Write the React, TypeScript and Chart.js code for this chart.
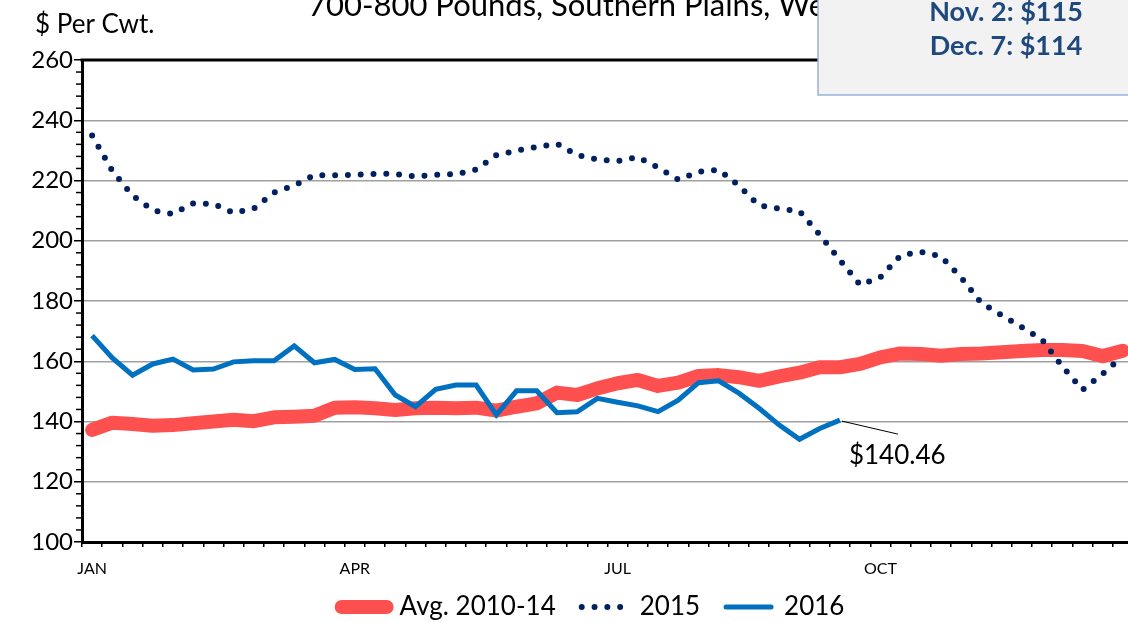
import React, { useEffect, useRef } from "react";
import { Chart, registerables } from "chart.js";

Chart.register(...registerables);

const weekLabels = [
  "Wk 1", "Wk 2", "Wk 3", "Wk 4", "Wk 5", "Wk 6", "Wk 7", "Wk 8", "Wk 9", "Wk 10",
  "Wk 11", "Wk 12", "Wk 13", "Wk 14", "Wk 15", "Wk 16", "Wk 17", "Wk 18", "Wk 19", "Wk 20",
  "Wk 21", "Wk 22", "Wk 23", "Wk 24", "Wk 25", "Wk 26", "Wk 27", "Wk 28", "Wk 29", "Wk 30",
  "Wk 31", "Wk 32", "Wk 33", "Wk 34", "Wk 35", "Wk 36", "Wk 37", "Wk 38", "Wk 39", "Wk 40",
  "Wk 41", "Wk 42", "Wk 43", "Wk 44", "Wk 45", "Wk 46", "Wk 47", "Wk 48", "Wk 49", "Wk 50",
  "Wk 51", "Wk 52",
];

const monthTickIndex = [0, 13, 26, 39];
const monthTickLabels = ["JAN", "APR", "JUL", "OCT"];

const avg2010_14 = [
  137.2, 139.6, 139.2, 138.6, 138.8, 139.4, 140.0, 140.6, 140.1, 141.4,
  141.6, 141.9, 144.6, 144.7, 144.4, 143.8, 144.4, 144.6, 144.4, 144.6,
  143.6, 144.9, 146.0, 149.6, 148.8, 151.0, 152.7, 153.8, 151.8, 152.9,
  155.1, 155.4, 154.7, 153.5, 155.0, 156.2, 158.0, 158.0, 159.1, 161.3,
  162.6, 162.4, 161.8, 162.4, 162.6, 163.0, 163.4, 163.7, 163.7, 163.4,
  161.7, 163.5,
];

const y2015 = [
  234.9, 223.2, 215.0, 210.1, 208.9, 212.4, 212.2, 209.3, 210.7, 216.0,
  218.3, 221.8, 221.7, 221.9, 222.2, 222.2, 221.3, 221.9, 222.1, 223.6,
  228.4, 229.9, 231.1, 232.2, 228.4, 227.0, 226.4, 227.8, 224.3, 220.3,
  222.9, 223.6, 218.3, 211.7, 210.7, 209.8, 202.0, 193.6, 185.3, 187.9,
  195.1, 196.3, 194.8, 187.8, 179.3, 175.3, 171.3, 167.2, 158.3, 150.5,
  155.8, 161.7,
];

const y2016 = [
  168.5, 161.1, 155.4, 159.1, 160.7, 157.1, 157.4, 159.8, 160.2, 160.2,
  165.1, 159.5, 160.6, 157.3, 157.5, 148.8, 144.9, 150.7, 152.1, 152.1,
  142.2, 150.2, 150.2, 142.9, 143.2, 147.7, 146.4, 145.2, 143.3, 147.1,
  152.9, 153.5, 149.4, 144.4, 138.8, 134.1, 137.7, 140.46,
];

const chartTitle = "700-800 Pounds, Southern Plains, Weekly";
const yAxisTitle = "$ Per Cwt.";
const noteLines = ["Nov. 2: $115", "Dec. 7: $114"];

const FONT = "Lato, 'DejaVu Sans', sans-serif";

const decorPlugin = {
  id: "decor",
  afterLayout(chart: any) {
    const lg = chart.legend;
    if (lg) {
      lg.left += 26.5;
      lg.right += 26.5;
      lg.top -= 24;
      lg.bottom -= 24;
    }
  },
  afterDatasetsDraw(chart: any) {
    const { ctx, chartArea: a, scales } = chart;
    const ys = scales.y;
    ctx.save();
    // minor y ticks
    ctx.strokeStyle = "#000";
    ctx.lineWidth = 1.5;
    for (let v = ys.min + 4; v < ys.max; v += 4) {
      if (v % 20 === 0) continue;
      const py = ys.getPixelForValue(v);
      ctx.beginPath();
      ctx.moveTo(a.left - 6, py);
      ctx.lineTo(a.left, py);
      ctx.stroke();
    }
    // top & right border of plot area
    ctx.lineWidth = 3;
    ctx.beginPath();
    ctx.moveTo(a.left - 1.5, a.top);
    ctx.lineTo(a.right, a.top);
    ctx.lineTo(a.right, a.bottom);
    ctx.stroke();

    // last-value annotation for 2016
    const meta = chart.getDatasetMeta(2);
    const last = y2016.length - 1;
    const pt = meta.data[last];
    if (pt) {
      ctx.lineWidth = 1;
      ctx.beginPath();
      ctx.moveTo(pt.x + 2, pt.y + 1);
      ctx.lineTo(pt.x + 58, pt.y + 14);
      ctx.stroke();
      ctx.font = `26px ${FONT}`;
      ctx.fillStyle = "#000";
      ctx.textAlign = "left";
      ctx.textBaseline = "alphabetic";
      ctx.fillText(`$${y2016[last].toFixed(2)}`, pt.x + 9, pt.y + 44);
    }
    ctx.restore();
  },
  afterDraw(chart: any) {
    const { ctx } = chart;
    ctx.save();
    ctx.fillStyle = "#000";
    ctx.textAlign = "left";
    ctx.textBaseline = "alphabetic";
    ctx.font = `31px ${FONT}`;
    ctx.fillText(chartTitle, 308, 16);
    ctx.font = `26px ${FONT}`;
    ctx.fillText(yAxisTitle, 35, 33);

    // note box
    ctx.fillStyle = "#F2F2F2";
    ctx.fillRect(818, -10, 400, 105);
    ctx.strokeStyle = "#95B3D7";
    ctx.lineWidth = 1.5;
    ctx.strokeRect(818, -10, 400, 105);
    ctx.fillStyle = "#1F497D";
    ctx.textAlign = "center";
    ctx.font = `bold 27px ${FONT}`;
    ctx.fillText(noteLines[0], 1006, 21);
    ctx.fillText(noteLines[1], 1006, 55);
    ctx.restore();
  },
};

export default function App() {
  const ref = useRef<HTMLCanvasElement>(null);

  useEffect(() => {
    const canvas = ref.current;
    if (!canvas) return;
    const chart = new Chart(canvas, {
      type: "line",
      data: {
        labels: weekLabels,
        datasets: [
          {
            label: "Avg. 2010-14",
            data: avg2010_14,
            borderColor: "#FF5050",
            backgroundColor: "#FF5050",
            borderWidth: 14,
            borderCapStyle: "round",
            borderJoinStyle: "round",
            pointRadius: 0,
            order: 3,
          },
          {
            label: "2015",
            data: y2015,
            borderColor: "#002060",
            backgroundColor: "#002060",
            borderWidth: 6,
            borderDash: [0, 12.8],
            borderCapStyle: "round",
            borderJoinStyle: "round",
            pointRadius: 0,
            order: 2,
          },
          {
            label: "2016",
            data: y2016,
            borderColor: "#0070C0",
            backgroundColor: "#0070C0",
            borderWidth: 5,
            borderCapStyle: "butt",
            borderJoinStyle: "miter",
            pointRadius: 0,
            order: 1,
          },
        ],
      } as any,
      plugins: [decorPlugin],
      options: {
        responsive: false,
        animation: false,
        devicePixelRatio: 1,
        layout: { padding: { top: 60, right: 7, left: 0, bottom: 0 } },
        plugins: {
          tooltip: { enabled: false },
          title: { display: false },
          legend: {
            position: "bottom",
            labels: {
              usePointStyle: true,
              pointStyleWidth: 45,
              padding: 26,
              color: "#000",
              font: { family: FONT, size: 26 },
              sort: (a: any, b: any) => a.datasetIndex - b.datasetIndex,
              generateLabels: (ch: any) =>
                ch.data.datasets.map((ds: any, i: number) => ({
                  text: ds.label,
                  fillStyle: ds.borderColor,
                  strokeStyle: ds.borderColor,
                  lineWidth: ds.borderWidth,
                  lineCap: ds.label === "2016" ? "round" : ds.borderCapStyle,
                  lineJoin: "round",
                  lineDash: ds.borderDash || [],
                  lineDashOffset: 0,
                  pointStyle: "line",
                  hidden: false,
                  fontColor: "#000",
                  datasetIndex: i,
                })),
            },
          },
        },
        scales: {
          x: {
            type: "category",
            offset: true,
            afterFit: (s: any) => {
              s.height = 50;
            },
            border: { display: true, color: "#000", width: 3 },
            grid: {
              display: true,
              offset: true,
              drawOnChartArea: false,
              drawTicks: true,
              tickLength: 5,
              color: "#000",
              tickColor: "#000",
              lineWidth: 1.5,
            },
            ticks: {
              autoSkip: false,
              maxRotation: 0,
              padding: 12,
              color: "#000",
              font: { family: FONT, size: 16 },
              callback: (_v: any, i: number) => {
                const k = monthTickIndex.indexOf(i);
                return k >= 0 ? monthTickLabels[k] : "";
              },
            },
          },
          y: {
            min: 100,
            max: 260,
            afterFit: (s: any) => {
              s.width = 82;
            },
            border: { display: true, color: "#000", width: 3 },
            grid: {
              drawTicks: true,
              tickLength: 8,
              tickColor: "#000",
              lineWidth: 1.5,
              color: (c: any) =>
                c.tick && (c.tick.value === 100 || c.tick.value === 260)
                  ? "rgba(0,0,0,0)"
                  : "#A0A0A0",
            },
            ticks: {
              stepSize: 20,
              padding: 1,
              color: "#000",
              font: { family: FONT, size: 24 },
            },
          },
        },
      } as any,
    });
    return () => chart.destroy();
  }, []);

  return (
    <div
      style={{
        position: "fixed",
        left: 0,
        top: 0,
        width: 1128,
        height: 622,
        overflow: "hidden",
        background: "#fff",
      }}
    >
      <canvas
        ref={ref}
        width={1140}
        height={654}
        style={{ display: "block", width: 1140, height: 654 }}
      />
    </div>
  );
}
